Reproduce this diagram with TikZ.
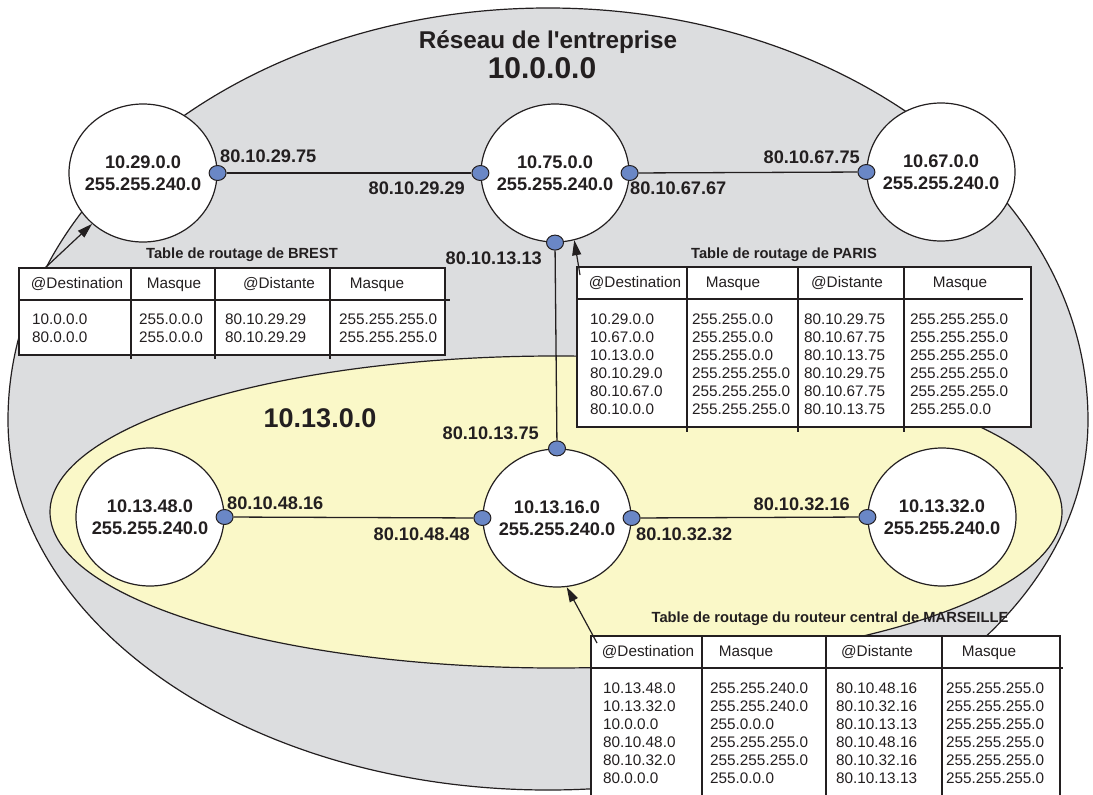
\documentclass[tikz,border=0pt]{standalone}
\usepackage{fontspec}
\setmainfont{Liberation Sans}
\usetikzlibrary{shapes.geometric,arrows.meta}
\definecolor{ink}{RGB}{35,31,32}
\definecolor{langrey}{RGB}{220,221,223}
\definecolor{sitelan}{RGB}{250,248,200}
\definecolor{portblue}{RGB}{106,135,198}
\tikzset{
  router/.style={ellipse, draw, fill=white, line width=1.2pt, minimum width=148pt, minimum height=138pt, inner sep=0pt},
  net/.style={align=center, inner sep=0pt, font=\bfseries\fontsize{18.2}{22}\selectfont},
  port/.style={ellipse, draw, fill=portblue, line width=1pt, minimum width=17pt, minimum height=15pt, inner sep=0pt},
  addr/.style={inner sep=0pt, font=\bfseries\fontsize{18.2}{22}\selectfont},
  link/.style={line width=1.3pt},
  tab/.style={line width=1.3pt},
  tabtitle/.style={inner sep=0pt, anchor=base, font=\bfseries\fontsize{14.7}{17}\selectfont},
  head/.style={inner sep=0pt, anchor=base, font=\fontsize{15.3}{18}\selectfont},
  col/.style={inner sep=0pt, anchor=west, align=left, font=\fontsize{15.3}{18.1}\selectfont},
  pointer/.style={line width=1.2pt, -{Triangle[length=15pt,width=9pt]}}
}
\begin{document}
\begin{tikzpicture}
[x=1pt, y=-1pt, color=ink]
\clip (0,0) rectangle (1093,795);
% enterprise network 10.0.0.0 and the Marseille site 10.13.0.0
\fill[langrey] (8,420) arc[start angle=180, end angle=360, x radius=540, y radius=412]
  arc[start angle=0, end angle=180, x radius=540, y radius=370] -- cycle;
\fill[sitelan] (556,512) ellipse [x radius=506, y radius=156];
\node[tabtitle] (mrstitle) at (830,622.3) {Table de routage du routeur central de MARSEILLE};
\draw[line width=1.2pt] (8,420) arc[start angle=180, end angle=360, x radius=540, y radius=412]
  arc[start angle=0, end angle=180, x radius=540, y radius=370] -- cycle;
\draw[line width=1.2pt] (556,512) ellipse [x radius=506, y radius=156];
\node[inner sep=0pt, anchor=base, font=\bfseries\fontsize{24.3}{28}\selectfont] (title) at (548,48.7) {Réseau de l\textquotesingle entreprise};
\node[inner sep=0pt, anchor=base, font=\bfseries\fontsize{30}{36}\selectfont] (titlenet) at (542,78.7) {10.0.0.0};
\node[inner sep=0pt, anchor=base, font=\bfseries\fontsize{27}{32}\selectfont] (sitenet) at (320,427.7) {10.13.0.0};
% routers
\node[router] (r29) at (143,173) {};
\node[router] (r75) at (555,173) {};
\node[router] (r67) at (941,172) {};
\node[router] (r48) at (150,517) {};
\node[router] (r16) at (557,518) {};
\node[router] (r32) at (942,517) {};
\node[net] (n29) at (r29) {10.29.0.0\\255.255.240.0};
\node[net] (n75) at (r75) {10.75.0.0\\255.255.240.0};
\node[net] (n67) at (r67) {10.67.0.0\\255.255.240.0};
\node[net] (n48) at (r48) {10.13.48.0\\255.255.240.0};
\node[net] (n16) at (r16) {10.13.16.0\\255.255.240.0};
\node[net] (n32) at (r32) {10.13.32.0\\255.255.240.0};
% routing table of Brest
\node[tabtitle] (bresttitle) at (242,258.3) {Table de routage de BREST};
\draw[tab, fill=white] (19,268) rectangle (445,355);
\draw[tab] (19,300) -- (450,300);
\draw[tab] (131,268) -- (131,359);
\draw[tab] (215,268) -- (215,359);
\draw[tab] (330,268) -- (330,359);
\node[head] (bh1) at (77,288.5) {@Destination};
\node[head] (bh2) at (174,288.5) {Masque};
\node[head] (bh3) at (279,288.5) {@Distante};
\node[head] (bh4) at (377,288.5) {Masque};
\node[col] (bc1) at (32,328) {10.0.0.0\\80.0.0.0};
\node[col] (bc2) at (139,328) {255.0.0.0\\255.0.0.0};
\node[col] (bc3) at (225,328) {80.10.29.29\\80.10.29.29};
\node[col] (bc4) at (339,328) {255.255.255.0\\255.255.255.0};
% routing table of Paris
\node[tabtitle] (paristitle) at (784,258.3) {Table de routage de PARIS};
\draw[tab, fill=white] (577,267) rectangle (1031,427);
\draw[tab] (577,299) -- (1023,299);
\draw[tab] (687,267) -- (687,432);
\draw[tab] (798,267) -- (798,432);
\draw[tab] (904,267) -- (904,432);
\node[head] (ph1) at (635,287.5) {@Destination};
\node[head] (ph2) at (733,287.5) {Masque};
\node[head] (ph3) at (847,287.5) {@Distante};
\node[head] (ph4) at (960,287.5) {Masque};
\node[col] (pc1) at (590,364) {10.29.0.0\\10.67.0.0\\10.13.0.0\\80.10.29.0\\80.10.67.0\\80.10.0.0};
\node[col] (pc2) at (692,364) {255.255.0.0\\255.255.0.0\\255.255.0.0\\255.255.255.0\\255.255.255.0\\255.255.255.0};
\node[col] (pc3) at (804,364) {80.10.29.75\\80.10.67.75\\80.10.13.75\\80.10.29.75\\80.10.67.75\\80.10.13.75};
\node[col] (pc4) at (910,364) {255.255.255.0\\255.255.255.0\\255.255.255.0\\255.255.255.0\\255.255.255.0\\255.255.0.0};
% routing table of Marseille
\draw[tab, fill=white] (591,636) rectangle (1060,805);
\draw[tab] (591,668) -- (1063,668);
\draw[tab] (702,636) -- (702,805);
\draw[tab] (826,636) -- (826,805);
\draw[tab] (942,636) -- (942,805);
\node[head] (mh1) at (648,656.5) {@Destination};
\node[head] (mh2) at (746,656.5) {Masque};
\node[head] (mh3) at (877,656.5) {@Distante};
\node[head] (mh4) at (989,656.5) {Masque};
\node[col] (mc1) at (603,733) {10.13.48.0\\10.13.32.0\\10.0.0.0\\80.10.48.0\\80.10.32.0\\80.0.0.0};
\node[col] (mc2) at (710,733) {255.255.240.0\\255.255.240.0\\255.0.0.0\\255.255.255.0\\255.255.255.0\\255.0.0.0};
\node[col] (mc3) at (836,733) {80.10.48.16\\80.10.32.16\\80.10.13.13\\80.10.48.16\\80.10.32.16\\80.10.13.13};
\node[col] (mc4) at (946,733) {255.255.255.0\\255.255.255.0\\255.255.255.0\\255.255.255.0\\255.255.255.0\\255.255.255.0};
% interfaces and links
\node[port] (p29e) at (r29.east) {};
\node[port] (p75w) at (r75.west) {};
\node[port] (p75e) at (r75.east) {};
\node[port] (p75s) at (r75.south) {};
\node[port] (p67w) at (r67.west) {};
\node[port] (p48e) at (r48.east) {};
\node[port] (p16w) at (r16.west) {};
\node[port] (p16e) at (r16.east) {};
\node[port] (p16n) at (r16.north) {};
\node[port] (p32w) at (r32.west) {};
\draw[link] (p29e) -- (p75w);
\draw[link] (p75e) -- (p67w);
\draw[link] (p75s) -- (p16n);
\draw[link] (p48e) -- (p16w);
\draw[link] (p16e) -- (p32w);
\node[addr, anchor=base west] (a2975) at (220,162.5) {80.10.29.75};
\node[addr, anchor=base east] (a2929) at (465,194.5) {80.10.29.29};
\node[addr, anchor=base west] (a6767) at (630,194.5) {80.10.67.67};
\node[addr, anchor=base east] (a6775) at (860,163.5) {80.10.67.75};
\node[addr, anchor=base east] (a1313) at (542,264.5) {80.10.13.13};
\node[addr, anchor=base east] (a1375) at (539,439.5) {80.10.13.75};
\node[addr, anchor=base west] (a4816) at (227,509.5) {80.10.48.16};
\node[addr, anchor=base east] (a4848) at (470,540.5) {80.10.48.48};
\node[addr, anchor=base west] (a3232) at (636,540.5) {80.10.32.32};
\node[addr, anchor=base east] (a3216) at (850,510.5) {80.10.32.16};
% tables point to their routers
\coordinate (brestfoot) at (45,268);
\coordinate (parisfoot) at (580,275);
\coordinate (mrsfoot) at (597,643);
\draw[pointer] (brestfoot) -- (r29.225);
\draw[pointer] (parisfoot) -- (r75.286);
\draw[pointer] (mrsfoot) -- (r16.278);
\end{tikzpicture}
\end{document}
